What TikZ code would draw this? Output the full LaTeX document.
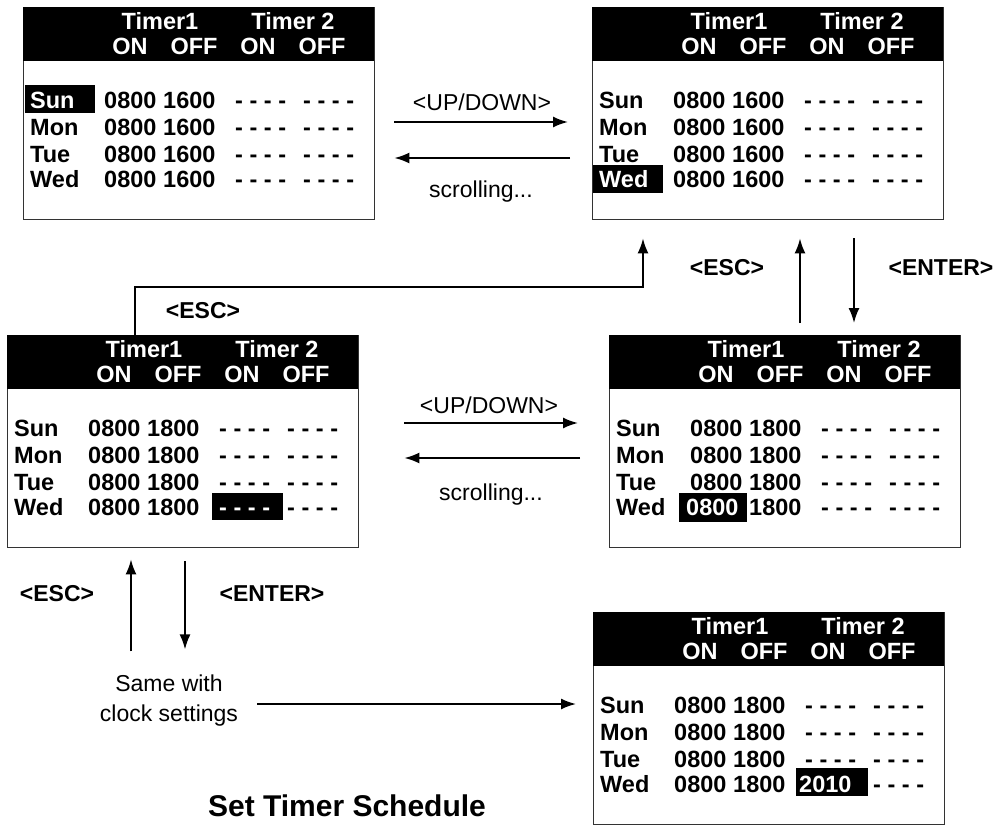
\documentclass[tikz,border=0pt]{standalone}
\usepackage{fontspec}
\setmainfont{Liberation Sans}
\usetikzlibrary{arrows.meta}
\tikzset{
  scr/.style={draw=black!80, line width=1.4pt, minimum width=351pt, minimum height=212pt, inner sep=0pt, anchor=north west},
  hd/.style={text=white, font=\bfseries\fontsize{23.5}{26}\selectfont, inner sep=0pt, text height=17pt, text depth=0pt},
  cell/.style={font=\bfseries\fontsize{23.5}{26}\selectfont, inner sep=0pt, anchor=west, text height=17pt, text depth=0pt},
  hlt/.style={text=white},
  lbl/.style={font=\fontsize{23}{30}\selectfont, inner sep=0pt},
  blbl/.style={font=\bfseries\fontsize{23}{28}\selectfont, inner sep=0pt},
  ttl/.style={font=\bfseries\fontsize{30}{34}\selectfont, inner sep=0pt},
  arr/.style={line width=1.8pt, -{Latex[length=15pt,width=11pt]}},
  % highlighted cells
  s1-day1/.style={hlt},
  s2-day4/.style={hlt},
  s3-da4/.style={hlt},
  s4-on4/.style={hlt, xshift=-4pt},
  s5-da4/.style={hlt, xshift=-6pt},
}
\newcommand\tscreen[5]{%
  \node[scr] (#1) at (#2,#3) {};
  \fill[black] (#2,#3) rectangle (#2+351,#3+54);
  \node[hd] (#1-t1) at (#2+137,#3+14) {Timer1};
  \node[hd] (#1-t2) at (#2+270,#3+14) {Timer 2};
  \node[hd] (#1-hon1) at (#2+107,#3+39) {ON};
  \node[hd] (#1-hoff1) at (#2+171,#3+39) {OFF};
  \node[hd] (#1-hon2) at (#2+235,#3+39) {ON};
  \node[hd] (#1-hoff2) at (#2+299,#3+39) {OFF};
  \foreach \dd/\dy/\da [count=\ii] in {Sun/93/- - - -,Mon/120/- - - -,Tue/147/- - - -,Wed/172/#5}{
    \node[cell, #1-day\ii/.try] (#1-day\ii) at (#2+7,#3+\dy) {\dd};
    \node[cell, #1-on\ii/.try] (#1-on\ii) at (#2+81,#3+\dy) {0800};
    \node[cell, #1-off\ii/.try] (#1-off\ii) at (#2+140,#3+\dy) {#4};
    \node[cell, #1-da\ii/.try] (#1-da\ii) at (#2+212,#3+\dy) {\da};
    \node[cell, #1-db\ii/.try] (#1-db\ii) at (#2+280,#3+\dy) {- - - -};
  }
}
\begin{document}
\begin{tikzpicture}[x=1pt,y=-1pt]
\useasboundingbox (0,0) rectangle (999,825);
% highlight backgrounds
\fill[black] (25,85) rectangle (95,113);
\fill[black] (593,165) rectangle (663,193);
\fill[black] (212,493) rectangle (283,520);
\fill[black] (679,493) rectangle (747,522);
\fill[black] (796,768) rectangle (868,796);
% screens
\tscreen{s1}{23}{7}{1600}{- - - -}
\tscreen{s2}{592}{7}{1600}{- - - -}
\tscreen{s3}{7}{335}{1800}{- - - -}
\tscreen{s4}{609}{335}{1800}{- - - -}
\tscreen{s5}{593}{612}{1800}{2010}
% labels
\node[lbl] (ud1) at (482,102) {<UP/DOWN>};
\node[lbl] (sc1) at (481,192) {scrolling...};
\node[lbl] (ud2) at (489,405) {<UP/DOWN>};
\node[lbl] (sc2) at (491,495) {scrolling...};
\node[blbl] (esc1) at (203,311) {<ESC>};
\node[blbl] (esc2) at (727,268) {<ESC>};
\node[blbl] (ent2) at (941,268) {<ENTER>};
\node[blbl] (esc3) at (57,594) {<ESC>};
\node[blbl] (ent3) at (272,594) {<ENTER>};
\node[lbl, align=center] (same) at (169,701) {Same with\\clock settings};
\node[ttl] (title) at (347,806) {Set Timer Schedule};
% connectors
\draw[arr] ([shift={(19,115)}]s1.north east) -- ([shift={(-24,115)}]s2.north west);
\draw[arr] ([shift={(-22,151)}]s2.north west) -- ([shift={(19,151)}]s1.north east);
\draw[arr] ([shift={(45,88)}]s3.north east) -- ([shift={(-31,88)}]s4.north west);
\draw[arr] ([shift={(-29,123)}]s4.north west) -- ([shift={(45,123)}]s3.north east);
\draw[arr] ([xshift=-48.5pt]s3.north) -- ++(0,-48) -| ([shift={(51,18)}]s2.south west);
\draw[arr] ([shift={(191,-12)}]s4.north west) -- ([shift={(208,18)}]s2.south west);
\draw[arr] ([shift={(262,18)}]s2.south west) -- ([shift={(245,-12)}]s4.north west);
\draw[arr] ([shift={(124,103)}]s3.south west) -- ([shift={(124,11)}]s3.south west);
\draw[arr] ([shift={(178,13)}]s3.south west) -- ([shift={(178,101)}]s3.south west);
\draw[arr] ([shift={(-336,92)}]s5.north west) -- ([shift={(-17,92)}]s5.north west);
\end{tikzpicture}
\end{document}
